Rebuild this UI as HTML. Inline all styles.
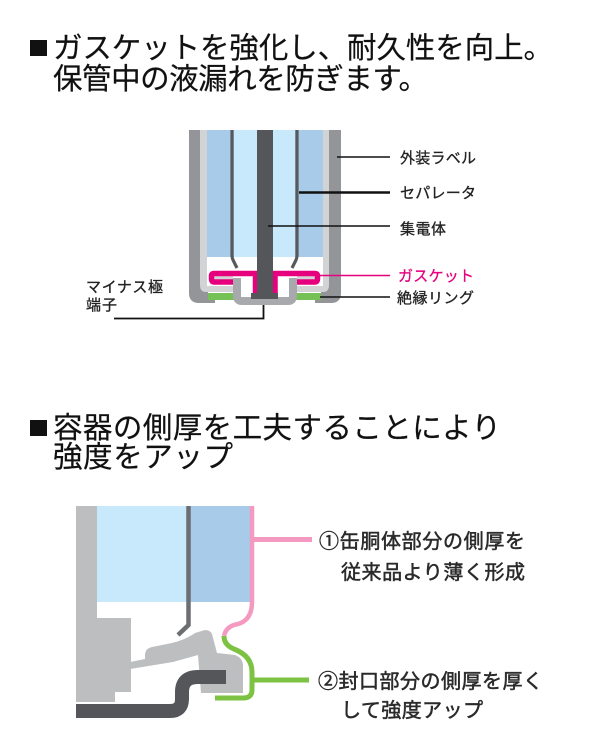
<!DOCTYPE html>
<html lang="ja"><head><meta charset="utf-8"><title>diagram</title>
<style>
html,body{margin:0;padding:0;background:#fff}
svg{display:block}
text{font-family:"Liberation Sans","Noto Sans CJK JP",sans-serif}
.h{font-size:29.500px;fill:#111;stroke:#111;stroke-width:.2px}
.l{font-size:15px;fill:#222;stroke:#222;stroke-width:.3px}
.n{font-size:20px;fill:#2a2a2a;stroke:#2a2a2a;stroke-width:.5px}
</style></head><body>
<svg width="600" height="750" viewBox="0 0 600 750" xmlns="http://www.w3.org/2000/svg">
<rect x="30" y="40" width="17" height="16" fill="#111"/>
<text class="h" x="53" y="58" textLength="500" lengthAdjust="spacing">ガスケットを強化し、耐久性を向上。</text>
<text class="h" x="53" y="89" textLength="375" lengthAdjust="spacing">保管中の液漏れを防ぎます。</text>

<!-- top diagram -->
<rect x="206" y="130" width="117" height="127" fill="#a8cbe9"/>
<rect x="234" y="130" width="61" height="127" fill="#c8e9fb"/>
<path d="M200 130H207V286H233V292H200Z" fill="#d2d3d4"/>
<path d="M323 130H330V292H297V286H323Z" fill="#d2d3d4"/>
<rect x="213" y="275" width="20" height="5" fill="#d2d3d4"/>
<rect x="297" y="275" width="20" height="5" fill="#d2d3d4"/>
<path d="M189 130H200V285Q200 292 206 292H208V300H215V303H199Q189 303 189 293Z" fill="#939598"/>
<path d="M341 130H329V285Q329 292 323 292H321V300H315V303H331Q341 303 341 293Z" fill="#939598"/>
<rect x="208" y="293" width="26" height="7" fill="#76c156"/>
<rect x="296" y="293" width="25" height="7" fill="#76c156"/>
<path d="M232 130V255Q232 258 233 260L237 268M297 130V255Q297 258 296 260L292 268" fill="none" stroke="#58595b" stroke-width="3.200"/>
<path d="M237 278V296Q237 301 242 301H288Q293 301 293 296V278" fill="none" stroke="#a7a9ac" stroke-width="8"/>
<path d="M233 282H214Q211.500 282 211.500 279V276Q211.500 273.500 214 273.500H255.500V294" fill="none" stroke="#e6007e" stroke-width="5.500"/>
<path d="M297 282H315Q317.500 282 317.500 279V276Q317.500 273.500 315 273.500H275V294" fill="none" stroke="#e6007e" stroke-width="5.500"/>
<rect x="257" y="130" width="16" height="165" fill="#55565a"/>
<rect x="251" y="293" width="27" height="6" fill="#55565a"/>
<path d="M337 157H390" stroke="#111" stroke-width="1.600"/>
<path d="M299 192.500H390" stroke="#111" stroke-width="2.600"/>
<path d="M268 226H390" stroke="#111" stroke-width="1.600"/>
<path d="M320 275.500H390" stroke="#e6007e" stroke-width="1.600"/>
<path d="M320 297H390" stroke="#111" stroke-width="1.600"/>
<path d="M263.500 305V318.500H114" fill="none" stroke="#111" stroke-width="1.800"/>
<text class="l" x="400" y="163" textLength="76" lengthAdjust="spacing">外装ラベル</text>
<text class="l" x="400" y="198" textLength="76" lengthAdjust="spacing">セパレータ</text>
<text class="l" x="400" y="234" textLength="46" lengthAdjust="spacing">集電体</text>
<text class="l" x="398" y="281" textLength="76" lengthAdjust="spacing" style="fill:#e6007e;stroke:#e6007e">ガスケット</text>
<text class="l" x="397" y="303" textLength="77" lengthAdjust="spacing">絶縁リング</text>
<text class="l" x="86" y="292" textLength="77" lengthAdjust="spacing">マイナス極</text>
<text class="l" x="86" y="310" textLength="31" lengthAdjust="spacing">端子</text>

<!-- second heading -->
<rect x="30" y="420" width="17" height="16" fill="#111"/>
<text class="h" x="53" y="438" textLength="448" lengthAdjust="spacing">容器の側厚を工夫することにより</text>
<text class="h" x="53" y="467" textLength="180" lengthAdjust="spacing">強度をアップ</text>

<!-- bottom diagram -->
<rect x="96" y="506" width="92" height="96" fill="#c8e9fb"/>
<rect x="190" y="506" width="60" height="96" fill="#a8cbe9"/>
<path d="M76 506H97V618H131V692H115V702H76Z" fill="#bcbec0"/>
<path d="M130 662L145 659V654Q146 648 152 647L172 643Q185 640 195 633L205 630Q210 630 212 634L217 653L235 655Q243 658 243 666V693H201L198 655L173 662L130 669Z" fill="#bcbec0"/>
<path d="M188.500 506V625L178 635" fill="none" stroke="#6d6e71" stroke-width="4.500"/>
<path d="M226 677H198Q182 677 182 692V699Q182 711 170 711H76" fill="none" stroke="#55565a" stroke-width="14"/>
<path d="M252 506V602Q252 620 238 624Q226 626 224 636" fill="none" stroke="#f49ac1" stroke-width="4.500"/>
<path d="M252 539.500H312" stroke="#f49ac1" stroke-width="5"/>
<path d="M224 636Q224 645 234 649Q252 656 252 672V690Q252 698 243 698H215" fill="none" stroke="#7dc242" stroke-width="5"/>
<path d="M252 680H309" stroke="#7dc242" stroke-width="5"/>
<text class="n" x="319" y="548" textLength="206" lengthAdjust="spacing">①缶胴体部分の側厚を</text>
<text class="n" x="341" y="579" textLength="184" lengthAdjust="spacing">従来品より薄く形成</text>
<text class="n" x="318" y="688" textLength="225" lengthAdjust="spacing">②封口部分の側厚を厚く</text>
<text class="n" x="341" y="717" textLength="142" lengthAdjust="spacing">して強度アップ</text>
</svg>
</body></html>
